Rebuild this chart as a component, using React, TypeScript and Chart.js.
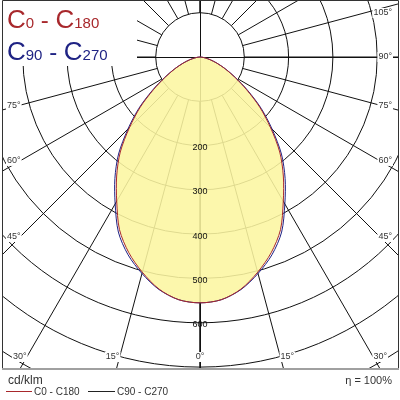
import { useEffect, useRef } from "react";
import { Chart, registerables } from "chart.js";

Chart.register(...registerables);

// ---- data (cd/klm) ----
const gammaAngles = [0, 5, 10, 15, 20, 25, 30, 35, 40, 45, 50, 55, 60, 65, 70, 75, 80, 85, 90];
const c0c180 = [555, 550, 532, 503, 470, 430, 376, 328, 280, 225, 176, 128, 90, 62, 40, 24, 12, 4, 0];
const c90c270 = [555, 550, 533, 506, 475, 436, 383, 335, 286, 230, 180, 131, 92, 63, 41, 24, 12, 4, 0];
const ringValues = [100, 200, 300, 400, 500, 600, 700, 800, 900, 1000];
const ringLabelValues = [200, 300, 400, 500, 600];
const gridAngles = [0, 15, 30, 45, 60, 75, 90, 105, 120, 135, 150, 165, 180];
const angleLabelAngles = [0, 15, 30, 45, 60, 75, 90, 105];
const seriesNames = ["C0 - C180", "C90 - C270"];
const unitLabel = "cd/klm";
const efficiencyLabel = "\u03B7 = 100%";

// ---- layout / style ----
const W = 400;
const H = 400;
const AREA = { left: 3, top: 1, right: 398, bottom: 368 };
const CENTER = { x: 200, y: 57 };
const PX = 0.443; // pixels per cd/klm
const RED = "#a8282c";
const BLUE = "#1f2384";
const FONT = '"Liberation Sans", Arial, sans-serif';

function curvePoints(values: number[]) {
  const pts: { x: number; y: number }[] = [];
  for (let i = gammaAngles.length - 1; i >= 0; i--) {
    const r = (gammaAngles[i] * Math.PI) / 180;
    pts.push({ x: values[i] * Math.sin(r), y: -values[i] * Math.cos(r) });
  }
  for (let i = 1; i < gammaAngles.length; i++) {
    const r = (gammaAngles[i] * Math.PI) / 180;
    pts.push({ x: -values[i] * Math.sin(r), y: -values[i] * Math.cos(r) });
  }
  return pts;
}

const polarPlugin = {
  id: "polarGrid",
  beforeDraw(chart: any) {
    const ctx = chart.ctx;
    ctx.save();
    ctx.fillStyle = "#fff";
    ctx.fillRect(0, 0, chart.width, chart.height);
    ctx.restore();
  },
  beforeDatasetsDraw(chart: any) {
    const ctx = chart.ctx;
    const a = chart.chartArea;
    const xs = chart.scales.x;
    const ys = chart.scales.y;
    const ox = xs.getPixelForValue(0);
    const oy = ys.getPixelForValue(0);
    const rp = (v: number) => xs.getPixelForValue(v) - ox;
    ctx.save();
    ctx.beginPath();
    ctx.rect(a.left, a.top, a.right - a.left, a.bottom - a.top);
    ctx.clip();
    ctx.strokeStyle = "#111";
    ctx.lineWidth = 1;
    for (const v of ringValues) {
      ctx.beginPath();
      ctx.arc(ox, oy, rp(v), 0, Math.PI * 2);
      ctx.stroke();
    }
    const r0 = rp(ringValues[0]);
    const r1 = rp(ringValues[ringValues.length - 1]);
    for (const g of gridAngles) {
      const rad = (g * Math.PI) / 180;
      for (const s of [1, -1]) {
        const dx = s * Math.sin(rad);
        const dy = Math.cos(rad);
        ctx.beginPath();
        ctx.moveTo(ox + dx * r0, oy + dy * r0);
        ctx.lineTo(ox + dx * r1, oy + dy * r1);
        ctx.stroke();
      }
    }
    ctx.beginPath();
    ctx.moveTo(Math.round(ox) + 0.5, a.top);
    ctx.lineTo(Math.round(ox) + 0.5, a.bottom);
    ctx.moveTo(a.left, Math.round(oy) + 0.5);
    ctx.lineTo(a.right, Math.round(oy) + 0.5);
    ctx.stroke();
    ctx.restore();
  },
  afterDatasetsDraw(chart: any) {
    const ctx = chart.ctx;
    const a = chart.chartArea;
    const xs = chart.scales.x;
    const ys = chart.scales.y;
    const ox = xs.getPixelForValue(0);
    const oy = ys.getPixelForValue(0);
    const rp = (v: number) => ys.getPixelForValue(-v) - oy;

    ctx.save();
    // ring value labels
    ctx.font = `9px ${FONT}`;
    ctx.fillStyle = "#111";
    ctx.textAlign = "center";
    ctx.textBaseline = "middle";
    for (const v of ringLabelValues) {
      ctx.fillText(String(v), ox, oy + rp(v) + 2);
    }

    // angle labels
    const label = (text: string, x: number, y: number, align: string) => {
      ctx.font = `9px ${FONT}`;
      const w = ctx.measureText(text).width;
      let left = align === "left" ? x : align === "right" ? x - w : x - w / 2;
      if (left < 7) left = 7;
      if (left + w > 392) left = 392 - w;
      ctx.fillStyle = "#fff";
      ctx.fillRect(left - 1, y - 5, w + 2, 10);
      ctx.fillStyle = "#333";
      ctx.textAlign = "left";
      ctx.textBaseline = "middle";
      ctx.fillText(text, left, y);
    };
    const bottomY = 357;
    for (const g of angleLabelAngles) {
      const text = `${g}\u00B0`;
      if (g === 0) {
        label(text, ox, bottomY, "center");
        continue;
      }
      const rad = (g * Math.PI) / 180;
      for (const s of [1, -1]) {
        const xEdge = s > 0 ? 380 : 20;
        const t = Math.abs(xEdge - ox) / Math.sin(rad);
        const yl = oy + t * Math.cos(rad);
        if (yl > bottomY) {
          const x = ox + s * ((bottomY - oy) * Math.tan(rad) + 7);
          label(text, x, bottomY, "center");
        } else {
          const y = Math.max(yl, 13);
          if (s > 0) label(text, 392, y, "right");
          else label(text, 7, y, "left");
        }
      }
    }

    // legend box (top-left)
    ctx.fillStyle = "#fff";
    ctx.fillRect(a.left, a.top, 134, 65);
    const parts = (y: number, color: string, pieces: [string, number][]) => {
      let x = 7;
      ctx.fillStyle = color;
      ctx.textAlign = "left";
      ctx.textBaseline = "alphabetic";
      for (const [t, size] of pieces) {
        ctx.font = `${size}px ${FONT}`;
        ctx.fillText(t, x, y);
        x += ctx.measureText(t).width;
      }
    };
    parts(28, RED, [["C", 26], ["0", 15], [" - ", 24], ["C", 26], ["180", 15]]);
    parts(60, BLUE, [["C", 26], ["90", 15], [" - ", 24], ["C", 26], ["270", 15]]);

    // frame
    ctx.strokeStyle = "#333";
    ctx.lineWidth = 1;
    ctx.beginPath();
    ctx.moveTo(a.left - 0.5, a.bottom);
    ctx.lineTo(a.left - 0.5, a.top - 0.5);
    ctx.lineTo(a.right + 0.5, a.top - 0.5);
    ctx.lineTo(a.right + 0.5, a.bottom);
    ctx.stroke();
    ctx.strokeStyle = "#a0a0a0";
    ctx.lineWidth = 2;
    ctx.beginPath();
    ctx.moveTo(a.left - 1, a.bottom + 1);
    ctx.lineTo(a.right + 1, a.bottom + 1);
    ctx.stroke();

    // bottom texts
    ctx.fillStyle = "#333";
    ctx.textBaseline = "alphabetic";
    ctx.font = `12px ${FONT}`;
    ctx.textAlign = "left";
    ctx.fillText(unitLabel, 8, 384);
    ctx.font = `11px ${FONT}`;
    ctx.textAlign = "right";
    ctx.fillText(efficiencyLabel, 392, 384);

    ctx.font = `10px ${FONT}`;
    ctx.textAlign = "left";
    ctx.lineWidth = 1;
    ctx.strokeStyle = RED;
    ctx.beginPath();
    ctx.moveTo(6, 391.5);
    ctx.lineTo(32, 391.5);
    ctx.stroke();
    ctx.fillStyle = "#333";
    ctx.fillText(seriesNames[0], 34, 395);
    ctx.strokeStyle = "#222";
    ctx.beginPath();
    ctx.moveTo(88, 391.5);
    ctx.lineTo(115, 391.5);
    ctx.stroke();
    ctx.fillText(seriesNames[1], 117, 395);
    ctx.restore();
  },
};

export default function App() {
  const ref = useRef<HTMLCanvasElement | null>(null);
  useEffect(() => {
    if (!ref.current) return;
    const c0 = curvePoints(c0c180);
    const c90 = curvePoints(c90c270);
    const chart = new Chart(ref.current, {
      type: "scatter",
      data: {
        datasets: [
          {
            label: seriesNames[0],
            data: c0,
            showLine: true,
            borderColor: RED,
            borderWidth: 1,
            pointRadius: 0,
            tension: 0.3,
            fill: false,
            order: 1,
          },
          {
            label: seriesNames[1],
            data: c90,
            showLine: true,
            borderColor: BLUE,
            borderWidth: 1,
            pointRadius: 0,
            tension: 0.3,
            fill: false,
            order: 2,
          },
          {
            label: "fill",
            data: c0,
            showLine: true,
            borderColor: "rgba(0,0,0,0)",
            borderWidth: 1,
            pointRadius: 0,
            tension: 0.3,
            fill: "shape",
            backgroundColor: "rgba(252,246,160,0.88)",
            order: 3,
          },
        ],
      },
      options: {
        animation: false,
        responsive: false,
        maintainAspectRatio: false,
        events: [],
        layout: {
          padding: {
            left: AREA.left,
            top: AREA.top,
            right: W - AREA.right,
            bottom: H - AREA.bottom,
          },
        },
        scales: {
          x: {
            type: "linear",
            display: false,
            min: (AREA.left - CENTER.x) / PX,
            max: (AREA.right - CENTER.x) / PX,
          },
          y: {
            type: "linear",
            display: false,
            min: -(AREA.bottom - CENTER.y) / PX,
            max: (CENTER.y - AREA.top) / PX,
          },
        },
        plugins: {
          legend: { display: false },
          tooltip: { enabled: false },
        },
      },
      plugins: [polarPlugin],
    });
    return () => chart.destroy();
  }, []);
  return (
    <div style={{ position: "fixed", left: 0, top: 0, width: W, height: H, background: "#fff" }}>
      <canvas ref={ref} width={W} height={H} style={{ display: "block", width: W, height: H }} />
    </div>
  );
}
